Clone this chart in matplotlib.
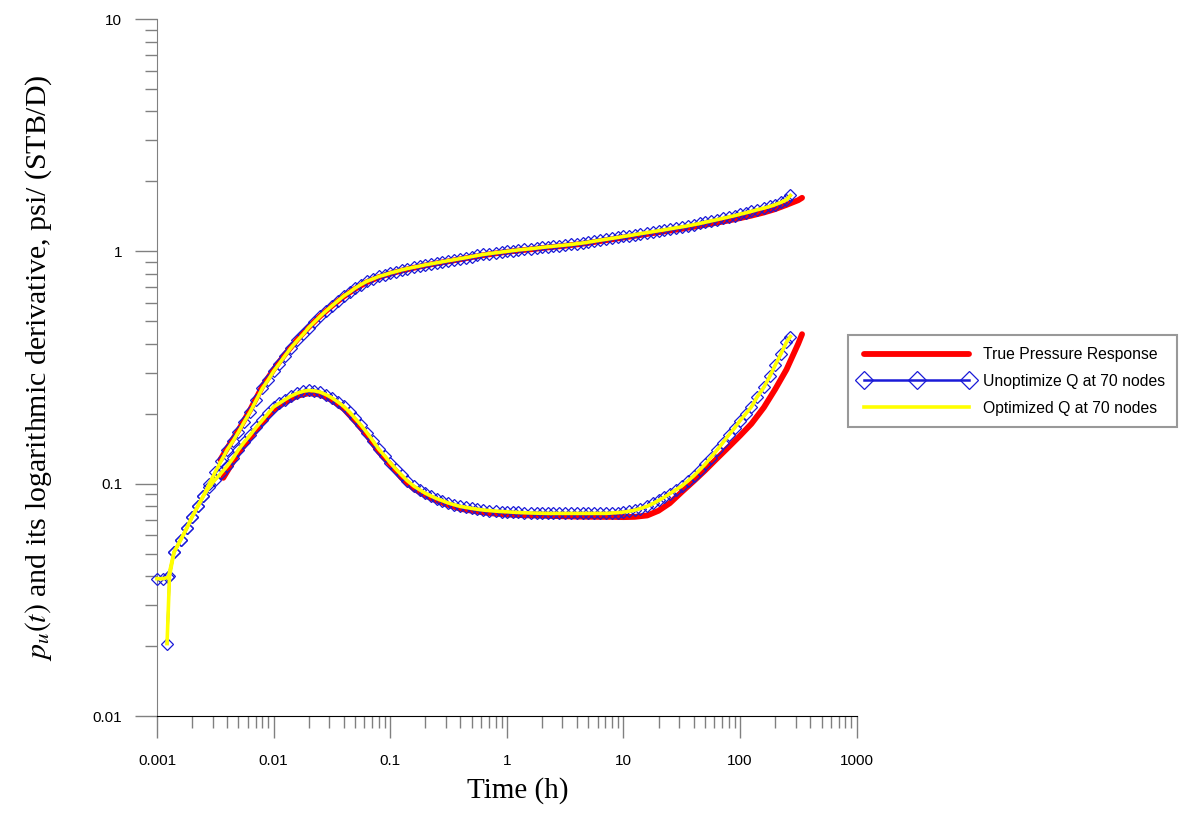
import numpy as np
import matplotlib
matplotlib.use('Agg')
import matplotlib.pyplot as plt
from matplotlib.ticker import LogLocator, NullFormatter

plt.rcParams['mathtext.fontset'] = 'stix'

# ~~~~~~~~~~~~ data ~~~~~~~~~~~~
# true response (red), pressure branch and derivative branch
t_true_p = [0.0035, 0.004, 0.005, 0.0063, 0.008, 0.01, 0.0125, 0.016, 0.02, 0.025,
            0.0315, 0.04, 0.05, 0.063, 0.08, 0.1, 0.125, 0.16, 0.2, 0.25,
            0.315, 0.4, 0.5, 0.63, 0.8, 1, 1.25, 1.6, 2, 2.5,
            3.15, 4, 5, 6.3, 8, 10, 12.5, 16, 20, 25,
            31.5, 40, 50, 63, 80, 100, 125, 160, 200, 250, 315, 340]
p_true = [0.127, 0.142, 0.170, 0.208, 0.262, 0.31, 0.36, 0.418, 0.472, 0.526,
          0.582, 0.64, 0.69, 0.737, 0.775, 0.802, 0.826, 0.85, 0.87, 0.888,
          0.906, 0.925, 0.944, 0.963, 0.98, 0.995, 1.008, 1.02, 1.033, 1.045,
          1.057, 1.071, 1.087, 1.107, 1.127, 1.147, 1.166, 1.188, 1.208, 1.228,
          1.25, 1.275, 1.3, 1.328, 1.358, 1.39, 1.425, 1.47, 1.52, 1.585, 1.66, 1.70]

t_true_d = [0.0037, 0.004, 0.005, 0.0063, 0.008, 0.01, 0.0125, 0.016, 0.02, 0.025,
            0.0315, 0.04, 0.05, 0.063, 0.08, 0.1, 0.125, 0.16, 0.2, 0.25,
            0.315, 0.4, 0.5, 0.63, 0.8, 1, 1.25, 1.6, 2, 2.5,
            3.15, 4, 5, 6.3, 8, 10, 12.5, 16, 20, 25,
            31.5, 40, 50, 63, 80, 100, 125, 160, 200, 250, 315, 340]
d_true = [0.106, 0.113, 0.136, 0.158, 0.183, 0.208, 0.224, 0.239, 0.245, 0.242,
          0.229, 0.21, 0.186, 0.162, 0.137, 0.121, 0.106, 0.095, 0.089, 0.0845,
          0.081, 0.078, 0.0765, 0.0752, 0.0743, 0.0737, 0.0733, 0.073, 0.0728, 0.0726,
          0.0724, 0.0722, 0.0721, 0.072, 0.072, 0.0718, 0.072, 0.073, 0.0765, 0.0825,
          0.092, 0.1026, 0.114, 0.128, 0.144, 0.161, 0.181, 0.213, 0.255, 0.31, 0.40, 0.44]

# unoptimized Q at 70 nodes (blue diamonds) - optimized curve lies right on top of it
t_q_p = [0.00122, 0.00128, 0.0014, 0.0016, 0.0018, 0.002, 0.00224, 0.0025, 0.0028, 0.00315,
         0.00355, 0.004, 0.0045, 0.005, 0.0056, 0.0063, 0.0071, 0.008, 0.009, 0.01,
         0.0112, 0.0125, 0.014, 0.016, 0.018, 0.02, 0.0224, 0.025, 0.028, 0.0315,
         0.0355, 0.04, 0.045, 0.05, 0.056, 0.063, 0.071, 0.08, 0.09, 0.1,
         0.112, 0.125, 0.14, 0.16, 0.18, 0.2, 0.224, 0.25, 0.28, 0.315,
         0.355, 0.4, 0.45, 0.5, 0.56, 0.63, 0.71, 0.8, 0.9, 1,
         1.12, 1.25, 1.4, 1.6, 1.8, 2, 2.24, 2.5, 2.8, 3.15,
         3.55, 4, 4.5, 5, 5.6, 6.3, 7.1, 8, 9, 10,
         11.2, 12.5, 14, 16, 18, 20, 22.4, 25, 28, 31.5,
         35.5, 40, 45, 50, 56, 63, 71, 80, 90, 100,
         112, 125, 140, 160, 180, 200, 224, 250, 270]
p_q = [0.0205, 0.040, 0.0507, 0.0575, 0.0643, 0.072, 0.0799, 0.0887, 0.0997, 0.112,
       0.1252, 0.140, 0.1529, 0.167, 0.1846, 0.204, 0.229, 0.257, 0.280, 0.305,
       0.329, 0.355, 0.383, 0.414, 0.441, 0.47, 0.497, 0.525, 0.553, 0.582,
       0.612, 0.643, 0.668, 0.695, 0.719, 0.743, 0.761, 0.78, 0.793, 0.807,
       0.819, 0.832, 0.843, 0.855, 0.865, 0.875, 0.884, 0.893, 0.902, 0.912,
       0.921, 0.931, 0.940, 0.95, 0.96, 0.97, 0.978, 0.986, 0.993, 1.0,
       1.007, 1.014, 1.02, 1.026, 1.033, 1.04, 1.046, 1.052, 1.058, 1.064,
       1.071, 1.079, 1.087, 1.096, 1.106, 1.117, 1.127, 1.138, 1.148, 1.159,
       1.169, 1.18, 1.192, 1.205, 1.216, 1.227, 1.238, 1.25, 1.262, 1.274,
       1.288, 1.303, 1.318, 1.334, 1.351, 1.368, 1.387, 1.406, 1.425, 1.445,
       1.465, 1.486, 1.51, 1.535, 1.561, 1.589, 1.625, 1.667, 1.74]

t_q_d = [0.001, 0.00112, 0.00125, 0.0014, 0.0016, 0.0018, 0.002, 0.00224, 0.0025, 0.0028,
         0.00315, 0.00355, 0.004, 0.0045, 0.005, 0.0056, 0.0063, 0.0071, 0.008, 0.009,
         0.01, 0.0112, 0.0125, 0.014, 0.016, 0.018, 0.02, 0.0224, 0.025, 0.028,
         0.0315, 0.0355, 0.04, 0.045, 0.05, 0.056, 0.063, 0.071, 0.08, 0.09,
         0.1, 0.112, 0.125, 0.14, 0.16, 0.18, 0.2, 0.224, 0.25, 0.28,
         0.315, 0.355, 0.4, 0.45, 0.5, 0.56, 0.63, 0.71, 0.8, 0.9,
         1, 1.12, 1.25, 1.4, 1.6, 1.8, 2, 2.24, 2.5, 2.8,
         3.15, 3.55, 4, 4.5, 5, 5.6, 6.3, 7.1, 8, 9,
         10, 11.2, 12.5, 14, 16, 18, 20, 22.4, 25, 28,
         31.5, 35.5, 40, 45, 50, 56, 63, 71, 80, 90,
         100, 112, 125, 140, 160, 180, 200, 224, 250, 270]
d_q = [0.039, 0.039, 0.0395, 0.0507, 0.0575, 0.0643, 0.072, 0.0799, 0.0885, 0.0965,
       0.104, 0.111, 0.119, 0.129, 0.140, 0.151, 0.162, 0.175, 0.1875, 0.201,
       0.214, 0.222, 0.230, 0.238, 0.2455, 0.250, 0.252, 0.251, 0.248, 0.242,
       0.2344, 0.225, 0.215, 0.203, 0.191, 0.179, 0.166, 0.153, 0.1406, 0.1315,
       0.123, 0.1155, 0.109, 0.103, 0.0975, 0.094, 0.091, 0.0885, 0.0863, 0.0845,
       0.0826, 0.0811, 0.0798, 0.079, 0.0783, 0.0776, 0.077, 0.0766, 0.0762, 0.0759,
       0.0757, 0.0754, 0.0752, 0.075, 0.0748, 0.0747, 0.0746, 0.0745, 0.0745, 0.0745,
       0.0745, 0.0745, 0.0745, 0.0745, 0.0745, 0.0745, 0.0745, 0.0745, 0.0748, 0.0751,
       0.0755, 0.0761, 0.0769, 0.0782, 0.080, 0.0822, 0.0847, 0.0875, 0.0906, 0.094,
       0.0977, 0.1025, 0.108, 0.1145, 0.121, 0.1295, 0.139, 0.150, 0.162, 0.174,
       0.187, 0.200, 0.214, 0.236, 0.26, 0.29, 0.3236, 0.362, 0.407, 0.43]

# optimized Q at 70 nodes (yellow) - same points as above
t_opt_p, p_opt = t_q_p, p_q
t_opt_d, d_opt = t_q_d, d_q

xticks = [0.001, 0.01, 0.1, 1, 10, 100, 1000]
xticklabels = ['0.001', '0.01', '0.1', '1', '10', '100', '1000']
yticks = [0.01, 0.1, 1, 10]
yticklabels = ['0.01', '0.1', '1', '10']

# ~~~~~~~~~~~~ plot ~~~~~~~~~~~~
fig = plt.figure(figsize=(11.92, 8.16), dpi=100)
ax = fig.add_axes([0.1317, 0.1225, 0.587, 0.8542])

red = '#ff0000'
blue = '#1a1ad8'
yel = '#ffff00'

true_line, = ax.plot(t_true_p, p_true, color=red, lw=4.2, solid_capstyle='round', zorder=2)
ax.plot(t_true_d, d_true, color=red, lw=4.2, solid_capstyle='round', zorder=2)

unopt_line, = ax.plot(t_q_p, p_q, color=blue, lw=1.8, marker='D', ms=5.8, mfc='none',
                      mec=blue, mew=0.9, zorder=3, clip_on=False)
ax.plot(t_q_d, d_q, color=blue, lw=1.8, marker='D', ms=5.8, mfc='none',
        mec=blue, mew=0.9, zorder=3, clip_on=False)

opt_line, = ax.plot(t_opt_p, p_opt, color=yel, lw=2.6, zorder=4, clip_on=False)
ax.plot(t_opt_d, d_opt, color=yel, lw=2.6, zorder=4, clip_on=False)

ax.set_xscale('log')
ax.set_yscale('log')
ax.set_xlim(0.001, 1000)
ax.set_ylim(0.01, 10)

ax.set_xticks(xticks)
ax.set_xticklabels(xticklabels, fontsize=11, family='Liberation Sans')
ax.set_yticks(yticks)
ax.set_yticklabels(yticklabels, fontsize=11, family='Liberation Sans')
ax.xaxis.set_minor_locator(LogLocator(base=10, subs=np.arange(2, 10)))
ax.yaxis.set_minor_locator(LogLocator(base=10, subs=np.arange(2, 10)))
ax.xaxis.set_minor_formatter(NullFormatter())
ax.yaxis.set_minor_formatter(NullFormatter())

ax.tick_params(which='major', direction='out', length=16, width=1, color='#808080', pad=9)
ax.tick_params(which='minor', direction='out', length=8.5, width=1, color='#808080')
ax.tick_params(axis='x', which='major', pad=11)

for s in ['top', 'right']:
    ax.spines[s].set_visible(False)
ax.spines['left'].set_color('#808080')
ax.spines['bottom'].set_color('black')
ax.set_facecolor('none')

ax.set_xlabel('Time (h)', fontsize=21, family='Liberation Serif')
ax.xaxis.set_label_coords(0.516, -0.088)
ax.set_ylabel(r'$p_u(t)$ and its logarithmic derivative, psi/ (STB/D)', fontsize=21.5,
              family='Liberation Serif', labelpad=28)

leg = fig.legend([true_line, unopt_line, opt_line],
                 ['True Pressure Response', 'Unoptimize Q at 70 nodes', 'Optimized Q at 70 nodes'],
                 loc='upper left', bbox_to_anchor=(0.711, 0.589), numpoints=3, markerscale=1.5,
                 frameon=True, fancybox=False, edgecolor='#808080', handlelength=7.3,
                 handletextpad=0.6, borderpad=0.75, borderaxespad=0, labelspacing=0.75,
                 prop={'family': 'Liberation Sans', 'size': 11.3})
leg.get_frame().set_linewidth(1.5)
leg._legend_box.sep = 0
for h in leg.get_lines():
    h.set_clip_on(False)

fig.savefig('out.png', dpi=100)
